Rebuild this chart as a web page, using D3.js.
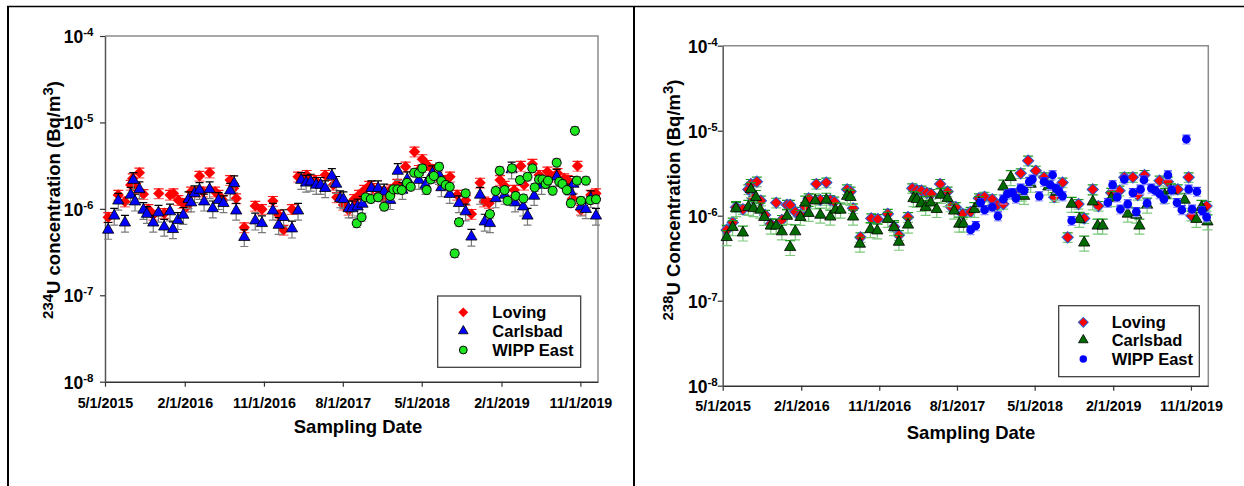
<!DOCTYPE html>
<html>
<head>
<meta charset="utf-8">
<script src="https://cdn.jsdelivr.net/npm/d3@7"></script>
<style>
  html, body { margin: 0; padding: 0; background: #fff; }
  svg { display: block; }
  text { font-family: "Liberation Sans", Arial, Helvetica, sans-serif; font-weight: bold; fill: #000; }
</style>
</head>
<body>
<svg id="chart" width="1244" height="486"></svg>
<script>
// ---- shared axis definitions ----
const xDomain = ["2015-05-01", "2020-01-01"];
const tickDates = ["2015-05-01", "2016-02-01", "2016-11-01", "2017-08-01", "2018-05-01", "2019-02-01", "2019-11-01"];
const tickLabels = ["5/1/2015", "2/1/2016", "11/1/2016", "8/1/2017", "5/1/2018", "2/1/2019", "11/1/2019"];
const decadeTicks = [1e-8, 1e-7, 1e-6, 1e-5, 1e-4];
const decadeExponents = ["-8", "-7", "-6", "-5", "-4"];
const stations = ["Loving", "Carlsbad", "WIPP East"];

// All concentrations below are in µBq/m³ (multiplied by UNIT when plotted)
const UNIT = 1e-6;

// ---- U-234 ----
const u234Loving = [
  ["2015-05-12",0.80],["2015-06-16",1.45],["2015-07-09",1.21],["2015-07-29",1.89],["2015-08-05",2.25],
  ["2015-08-16",1.74],["2015-08-28",2.62],["2015-09-11",1.48],["2015-09-28",0.99],["2015-10-15",0.85],
  ["2015-11-03",1.51],["2015-11-22",0.89],["2015-12-12",1.45],["2015-12-24",1.51],["2016-01-10",1.26],
  ["2016-01-25",1.16],["2016-02-08",1.06],["2016-02-23",1.58],["2016-03-08",1.58],["2016-03-23",2.40],
  ["2016-04-04",1.58],["2016-04-27",2.62],["2016-05-16",1.58],["2016-05-28",1.45],["2016-06-12",1.26],
  ["2016-07-07",2.15],["2016-07-19",1.73],["2016-07-28",1.32],["2016-08-25",0.61],["2016-10-02",1.08],
  ["2016-10-25",0.99],["2016-12-02",1.23],["2016-12-22",0.85],["2017-01-08",0.57],["2017-02-06",0.99],
  ["2017-02-27",2.35],["2017-03-29",2.46],["2017-04-27",2.15],["2017-06-01",2.46],["2017-06-29",1.89],
  ["2017-07-11",1.36],["2017-08-03",1.11],["2017-08-21",0.97],["2017-09-09",1.29],["2017-09-26",1.45],
  ["2017-10-14",1.65],["2017-10-31",1.84],["2017-11-12",1.73],["2017-11-29",1.41],["2017-12-16",1.58],
  ["2017-12-22",1.29],["2018-01-14",1.68],["2018-02-05",1.94],["2018-03-06",3.07],["2018-04-06",4.58],
  ["2018-04-21",2.81],["2018-05-03",3.74],["2018-05-20",3.21],["2018-06-07",2.87],["2018-06-24",2.35],
  ["2018-07-11",1.89],["2018-07-23",2.15],["2018-08-07",2.35],["2018-09-01",1.45],["2018-09-30",1.26],
  ["2018-10-20",0.87],["2018-11-19",2.00],["2018-12-03",1.21],["2018-12-20",1.16],["2019-01-27",2.15],
  ["2019-02-12",1.84],["2019-03-17",1.65],["2019-04-09",3.13],["2019-04-20",1.89],["2019-05-19",3.30],
  ["2019-06-11",2.46],["2019-06-23",2.06],["2019-07-10",2.69],["2019-07-22",2.35],["2019-08-14",2.58],
  ["2019-09-06",2.25],["2019-09-18",2.15],["2019-10-05",1.32],["2019-10-22",3.13],["2019-11-03",0.97],
  ["2019-12-07",1.45],["2019-12-25",1.51]
];
const u234Carlsbad = [
  ["2015-05-12",0.57],["2015-06-02",0.83],["2015-06-16",1.24],["2015-07-09",0.69],["2015-07-29",1.45],
  ["2015-08-07",2.15],["2015-08-13",1.21],["2015-08-28",1.68],["2015-09-11",0.97],["2015-09-23",0.87],
  ["2015-10-15",0.69],["2015-11-02",0.90],["2015-11-22",0.62],["2015-12-12",0.93],["2015-12-22",0.58],
  ["2016-01-08",0.74],["2016-01-27",0.85],["2016-02-14",1.29],["2016-02-23",1.18],["2016-03-06",1.51],
  ["2016-03-23",1.65],["2016-04-08",1.21],["2016-04-27",1.68],["2016-05-08",1.01],["2016-05-28",1.26],
  ["2016-06-14",1.16],["2016-07-07",1.62],["2016-07-21",1.97],["2016-07-28",0.95],["2016-08-25",0.47],
  ["2016-10-02",0.73],["2016-10-25",0.68],["2016-12-02",0.95],["2016-12-22",0.65],["2017-01-08",0.80],
  ["2017-02-06",0.59],["2017-02-27",0.95],["2017-03-10",2.15],["2017-03-27",2.00],["2017-04-12",2.06],
  ["2017-05-01",1.89],["2017-05-16",1.89],["2017-06-01",1.73],["2017-06-24",2.40],["2017-07-09",1.94],
  ["2017-07-23",1.32],["2017-08-03",1.29],["2017-08-21",1.01],["2017-09-03",1.01],["2017-09-21",1.06],
  ["2017-10-08",1.14],["2017-11-08",1.73],["2017-12-01",1.73],["2017-12-22",1.58],["2018-01-12",1.26],
  ["2018-02-07",2.74],["2018-02-23",1.65],["2018-03-12",2.19],["2018-04-21",2.15],["2018-05-14",1.89],
  ["2018-06-07",2.58],["2018-06-30",2.46],["2018-07-08",1.77],["2018-08-06",1.48],["2018-09-07",1.16],
  ["2018-09-30",0.93],["2018-10-20",0.475],["2018-11-19",1.45],["2018-12-05",0.71],["2018-12-23",0.68],
  ["2019-01-12",1.32],["2019-02-12",1.45],["2019-03-08",2.85],["2019-03-20",1.18],["2019-04-17",1.06],
  ["2019-05-02",0.83],["2019-05-25",1.41],["2019-06-20",1.89],["2019-08-11",2.35],["2019-09-28",1.58],
  ["2019-10-08",1.94],["2019-11-03",1.06],["2019-11-20",0.99],["2019-12-07",1.32],["2019-12-25",0.83]
];
const u234WippEast = [
  ["2017-09-18",0.68],["2017-10-05",0.80],["2017-10-19",1.36],["2017-11-06",1.30],["2017-12-01",1.36],
  ["2017-12-22",1.06],["2018-01-12",1.41],["2018-01-23",1.68],["2018-02-06",1.68],["2018-02-21",1.65],
  ["2018-03-11",2.00],["2018-03-24",1.80],["2018-04-05",2.62],["2018-04-21",2.58],["2018-05-03",2.94],
  ["2018-05-18",1.65],["2018-06-01",2.19],["2018-06-12",2.40],["2018-06-30",3.07],["2018-07-08",2.10],
  ["2018-07-23",1.89],["2018-08-06",1.80],["2018-08-23",0.305],["2018-09-07",0.70],["2018-09-30",1.51],
  ["2018-12-23",0.87],["2019-01-12",1.61],["2019-01-26",2.76],["2019-02-12",1.65],["2019-02-22",1.24],
  ["2019-03-09",2.94],["2019-03-22",1.41],["2019-04-06",2.15],["2019-04-18",1.32],["2019-05-02",2.35],
  ["2019-05-19",2.94],["2019-05-27",1.77],["2019-06-11",2.19],["2019-06-23",2.19],["2019-07-04",1.94],
  ["2019-07-12",2.12],["2019-07-28",1.62],["2019-08-11",3.42],["2019-08-20",2.06],["2019-08-31",1.94],
  ["2019-09-15",1.65],["2019-09-29",1.16],["2019-10-13",8.00],["2019-10-20",2.12],["2019-11-03",1.24],
  ["2019-11-20",2.12],["2019-12-05",1.26],["2019-12-25",1.29]
];

// ---- U-238 ----
const u238Loving = [
  ["2015-05-15",0.68],["2015-06-05",0.83],["2015-06-17",1.26],["2015-07-11",1.19],["2015-07-30",2.04],
  ["2015-08-08",2.36],["2015-08-15",1.60],["2015-08-29",2.51],["2015-09-12",1.50],["2015-09-27",1.02],
  ["2015-10-17",0.80],["2015-11-05",1.42],["2015-11-25",0.89],["2015-12-13",1.34],["2015-12-24",1.34],
  ["2016-01-11",1.11],["2016-01-29",1.02],["2016-02-15",1.26],["2016-02-27",1.60],["2016-03-25",2.36],
  ["2016-04-08",1.53],["2016-04-29",2.45],["2016-05-13",1.53],["2016-05-27",1.46],["2016-07-11",2.04],
  ["2016-07-23",1.92],["2016-08-01",1.22],["2016-08-27",0.557],["2016-10-04",0.93],["2016-10-27",0.91],
  ["2016-12-01",1.05],["2016-12-23",0.74],["2017-01-09",0.59],["2017-02-10",0.96],["2017-02-25",2.10],
  ["2017-03-13",2.00],["2017-03-29",1.97],["2017-04-17",1.86],["2017-05-03",1.80],["2017-06-03",2.36],
  ["2017-06-29",1.92],["2017-07-10",1.28],["2017-07-28",1.26],["2017-08-21",1.05],["2017-09-18",1.11],
  ["2017-10-17",1.60],["2017-11-06",1.67],["2017-12-03",1.56],["2017-12-21",1.34],["2018-01-11",1.37],
  ["2018-02-18",1.80],["2018-03-13",3.15],["2018-04-08",4.44],["2018-05-05",3.38],["2018-06-03",2.83],
  ["2018-07-09",1.65],["2018-08-07",2.45],["2018-08-25",0.557],["2018-10-02",1.37],["2018-10-22",0.93],
  ["2018-11-21",2.04],["2018-12-11",1.30],["2019-01-25",1.86],["2019-02-23",1.97],["2019-03-12",2.83],
  ["2019-04-11",2.83],["2019-04-28",1.75],["2019-05-22",3.01],["2019-07-14",2.58],["2019-08-12",2.51],
  ["2019-09-16",2.04],["2019-10-24",2.83],["2019-11-03",1.00],["2019-12-26",1.30]
];
const u238Carlsbad = [
  ["2015-05-15",0.557],["2015-06-05",0.73],["2015-06-17",1.22],["2015-07-11",0.63],["2015-07-30",1.26],
  ["2015-08-08",2.04],["2015-08-17",1.22],["2015-08-26",1.65],["2015-09-10",1.17],["2015-09-24",0.96],
  ["2015-10-17",0.76],["2015-11-05",0.76],["2015-11-25",0.65],["2015-12-13",0.99],["2015-12-24",0.425],
  ["2016-01-11",0.65],["2016-01-29",0.96],["2016-02-15",1.42],["2016-02-27",1.07],["2016-03-21",1.50],
  ["2016-04-08",1.02],["2016-04-29",1.53],["2016-05-13",0.97],["2016-05-31",1.17],["2016-06-18",1.17],
  ["2016-07-11",1.70],["2016-07-23",1.65],["2016-08-01",0.97],["2016-08-25",0.465],["2016-10-01",0.69],
  ["2016-10-25",0.666],["2016-12-01",0.91],["2016-12-23",0.73],["2017-01-09",0.49],["2017-02-10",0.78],
  ["2017-03-01",1.60],["2017-03-13",1.56],["2017-03-29",1.40],["2017-04-13",1.26],["2017-05-01",1.42],
  ["2017-05-22",1.19],["2017-06-05",1.75],["2017-06-29",1.60],["2017-07-22",1.14],["2017-08-09",0.80],
  ["2017-08-24",0.80],["2017-10-01",1.19],["2017-10-17",1.40],["2018-01-11",2.19],["2018-02-06",2.83],
  ["2018-03-17",1.86],["2018-03-25",1.70],["2018-04-17",2.36],["2018-06-18",2.19],["2018-07-16",1.90],
  ["2018-09-08",1.37],["2018-10-05",0.91],["2018-10-22",0.48],["2018-11-21",1.46],["2018-12-08",0.76],
  ["2018-12-26",0.76],["2019-01-25",1.60],["2019-03-24",1.05],["2019-04-23",1.02],["2019-05-04",0.76],
  ["2019-05-31",1.34],["2019-08-01",1.75],["2019-08-23",1.97],["2019-10-10",1.53],["2019-11-20",0.91],
  ["2019-12-08",1.26],["2019-12-29",0.85]
];
const u238WippEast = [
  ["2017-09-18",0.68],["2017-10-06",0.76],["2017-10-23",1.42],["2017-11-06",1.17],["2017-12-03",1.26],
  ["2017-12-23",0.99],["2018-01-11",1.56],["2018-01-25",1.80],["2018-02-12",1.86],["2018-02-24",1.60],
  ["2018-03-13",2.10],["2018-03-25",1.97],["2018-04-12",2.51],["2018-04-23",2.68],["2018-05-17",1.70],
  ["2018-06-03",2.51],["2018-06-25",2.30],["2018-07-03",3.01],["2018-07-15",2.10],["2018-07-26",1.92],
  ["2018-08-07",1.70],["2018-09-08",0.873],["2019-01-13",1.42],["2019-01-30",2.30],["2019-02-15",1.65],
  ["2019-02-26",1.19],["2019-03-12",2.68],["2019-03-24",1.37],["2019-04-11",1.86],["2019-04-23",1.11],
  ["2019-05-08",2.04],["2019-05-20",2.63],["2019-05-31",1.40],["2019-06-15",2.10],["2019-06-29",1.97],
  ["2019-07-14",1.80],["2019-07-29",1.56],["2019-08-12",3.01],["2019-08-26",2.00],["2019-09-13",1.42],
  ["2019-09-30",1.17],["2019-10-16",7.93],["2019-10-24",2.04],["2019-11-05",1.19],["2019-11-22",1.92],
  ["2019-12-10",1.14],["2019-12-26",0.96]
];

// typical relative counting uncertainty drawn as error bars, per station
const relUncertainty234 = [0.13, 0.22, 0.10];
const relUncertainty238 = [0.13, 0.20, 0.12];

const parse = d3.timeParse("%Y-%m-%d");
const svg = d3.select("#chart");

// ---- table frame around the two figures ----
const frame = svg.append("g").attr("stroke", "#000").attr("fill", "none");
frame.append("line").attr("x1", 7).attr("x2", 1244).attr("y1", 6.5).attr("y2", 6.5).attr("stroke-width", 1.5);
frame.append("line").attr("x1", 8).attr("x2", 8).attr("y1", 6).attr("y2", 486).attr("stroke-width", 2);
frame.append("line").attr("x1", 634).attr("x2", 634).attr("y1", 6).attr("y2", 486).attr("stroke-width", 2);

// ---- marker shapes ----
function markerPath(kind, size) {
  if (kind === "diamond") return d3.symbol(d3.symbolSquare, size)();
  if (kind === "triangle") return d3.symbol(d3.symbolTriangle, size)();
  return d3.symbol(d3.symbolCircle, size)();
}
function markerRotation(kind) { return kind === "diamond" ? " rotate(45)" : ""; }

const panels = [
  {
    left: 105, right: 598, top: 36, bottom: 381.7,
    isotope: "234", titleWord: "concentration",
    yTitleX: 60, yTitleY: 200, xTitleX: 358, xTitleY: 433,
    yLabelRight: -11.5, xLabelY: 26.3,
    legend: { x: 437.7, y: 296, w: 143, h: 71.3, symX: 463.3, rows: [312.3, 331, 350], textX: 492.3 },
    series: [
      { data: u234Loving, kind: "diamond", size: 64, legendSize: 48, fill: "#ff0000", stroke: "none", sw: 0, bar: "#ff1a1a", barLow: "#ff6a6a", cap: 10, rel: relUncertainty234[0] },
      { data: u234Carlsbad, kind: "triangle", size: 55, legendSize: 40, fill: "#0000ff", stroke: "#000", sw: 0.8, bar: "#000", barLow: "#7a7a7a", cap: 8, rel: relUncertainty234[1] },
      { data: u234WippEast, kind: "circle", size: 64, legendSize: 48, fill: "#1ee61e", stroke: "#000", sw: 1, bar: "#444", barLow: "#8a8a8a", cap: 8, rel: relUncertainty234[2] }
    ]
  },
  {
    left: 722.7, right: 1208.3, top: 45.7, bottom: 385.7,
    isotope: "238", titleWord: "Concentration",
    yTitleX: 680, yTitleY: 200, xTitleX: 971, xTitleY: 439,
    yLabelRight: -5, xLabelY: 25.8,
    legend: { x: 1058.7, y: 305.7, w: 140.6, h: 71, symX: 1083.3, rows: [322.3, 340, 359], textX: 1111.7 },
    series: [
      { data: u238Loving, kind: "diamond", size: 64, legendSize: 48, fill: "#ff0000", stroke: "#2a5bd0", sw: 1, bar: "#1a9a1a", barLow: "#7fc97f", cap: 10, rel: relUncertainty238[0] },
      { data: u238Carlsbad, kind: "triangle", size: 55, legendSize: 40, fill: "#006a00", stroke: "#000", sw: 0.8, bar: "#1a9a1a", barLow: "#7fc97f", cap: 10, rel: relUncertainty238[1] },
      { data: u238WippEast, kind: "circle", size: 60, legendSize: 44, fill: "#0000ff", stroke: "none", sw: 0, bar: "#3b3bff", barLow: "#9a9aff", cap: 8, rel: relUncertainty238[2] }
    ]
  }
];

panels.forEach(p => {
  const x = d3.scaleTime().domain(xDomain.map(parse)).range([p.left, p.right]);
  const y = d3.scaleLog().domain([decadeTicks[0], decadeTicks[decadeTicks.length - 1]]).range([p.bottom, p.top]);
  const g = svg.append("g");

  // upper and right edges of the plot box
  g.append("path")
    .attr("d", `M${p.left},${p.top}H${p.right}V${p.bottom}`)
    .attr("fill", "none").attr("stroke", "#8c8c8c").attr("stroke-width", 1.5);

  // x axis
  g.append("g")
    .attr("transform", `translate(0,${p.bottom})`)
    .call(d3.axisBottom(x)
      .tickValues(tickDates.map(parse))
      .tickFormat((d, i) => tickLabels[i])
      .tickSizeInner(5).tickSizeOuter(0))
    .call(a => {
      a.select(".domain").attr("stroke", "#333").attr("stroke-width", 1.5);
      a.selectAll(".tick line").attr("stroke", "#333").attr("stroke-width", 1.2);
      a.selectAll(".tick text")
        .attr("font-size", 14.3).attr("font-family", null).attr("fill", "#000")
        .attr("dy", null).attr("y", p.xLabelY);
    });

  // y axis with power-of-ten labels
  g.append("g")
    .attr("transform", `translate(${p.left},0)`)
    .call(d3.axisLeft(y).tickValues(decadeTicks).tickFormat("").tickSizeInner(5).tickSizeOuter(0))
    .call(a => {
      a.select(".domain").attr("stroke", "#555").attr("stroke-width", 1.5);
      a.selectAll(".tick line").attr("stroke", "#333").attr("stroke-width", 1.2);
      a.selectAll(".tick text").remove();
      a.selectAll(".tick").append("text")
        .attr("x", p.yLabelRight).attr("dy", "0.36em")
        .attr("text-anchor", "end").attr("font-size", 17.5).attr("fill", "#000")
        .each(function (d, i) {
          const t = d3.select(this);
          t.append("tspan").text("10");
          t.append("tspan").attr("font-size", 11.5).attr("dy", "-0.6em").text(decadeExponents[i]);
        });
    });

  // axis titles
  g.append("text")
    .attr("x", p.xTitleX).attr("y", p.xTitleY)
    .attr("text-anchor", "middle").attr("font-size", 18.5)
    .text("Sampling Date");

  const yt = g.append("text")
    .attr("transform", `translate(${p.yTitleX},${p.yTitleY}) rotate(-90)`)
    .attr("text-anchor", "middle").attr("font-size", 18.5);
  yt.append("tspan").attr("font-size", 15).attr("dy", -7).text(p.isotope);
  yt.append("tspan").attr("dy", 7).text(`U ${p.titleWord} (Bq/m`);
  yt.append("tspan").attr("font-size", 15).attr("dy", -7).text("3");
  yt.append("tspan").attr("dy", 7).text(")");

  // data: error bars first, then markers, one station at a time
  p.series.forEach(s => {
    const sg = g.append("g");
    const pts = s.data.map(([d, v]) => ({ date: parse(d), value: v * UNIT }));

    const bars = sg.append("g").selectAll("g").data(pts).join("g");
    bars.append("path")
      .attr("d", d => {
        const cx = x(d.date), yc = y(d.value), yl = y(d.value * (1 - s.rel));
        return `M${cx},${yc}V${yl}M${cx - s.cap / 2},${yl}H${cx + s.cap / 2}`;
      })
      .attr("stroke", s.barLow).attr("stroke-width", 1.2).attr("fill", "none");
    bars.append("path")
      .attr("d", d => {
        const cx = x(d.date), yc = y(d.value), yh = y(d.value * (1 + s.rel));
        return `M${cx},${yc}V${yh}M${cx - s.cap / 2},${yh}H${cx + s.cap / 2}`;
      })
      .attr("stroke", s.bar).attr("stroke-width", 1.2).attr("fill", "none");

    sg.append("g").selectAll("path").data(pts).join("path")
      .attr("d", markerPath(s.kind, s.size))
      .attr("transform", d => `translate(${x(d.date)},${y(d.value)})${markerRotation(s.kind)}`)
      .attr("fill", s.fill).attr("stroke", s.stroke).attr("stroke-width", s.sw);
  });

  // legend
  const L = p.legend;
  const lg = g.append("g");
  lg.append("rect").attr("x", L.x).attr("y", L.y).attr("width", L.w).attr("height", L.h)
    .attr("fill", "#fff").attr("stroke", "#333").attr("stroke-width", 1.2);
  p.series.forEach((s, i) => {
    lg.append("path")
      .attr("d", markerPath(s.kind, s.legendSize))
      .attr("transform", `translate(${L.symX},${L.rows[i]})${markerRotation(s.kind)}`)
      .attr("fill", s.fill).attr("stroke", s.stroke).attr("stroke-width", s.sw);
    lg.append("text").attr("x", L.textX).attr("y", L.rows[i]).attr("dy", "0.36em")
      .attr("font-size", 16.5).text(stations[i]);
  });
});
</script>
</body>
</html>
